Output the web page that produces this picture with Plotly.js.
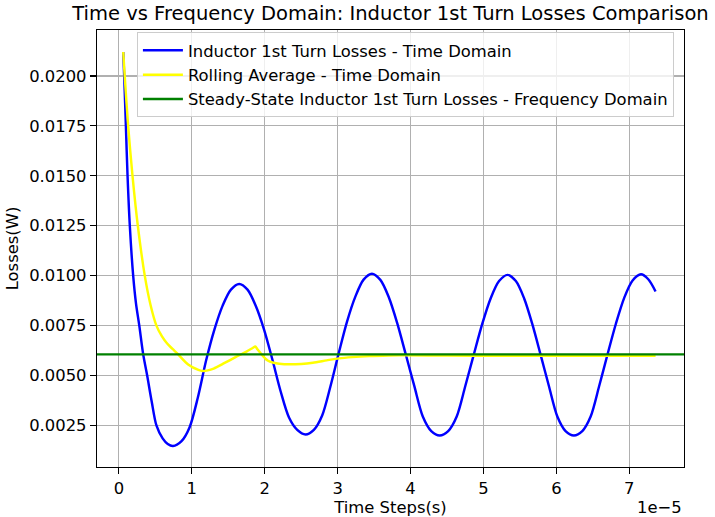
<!DOCTYPE html>
<html>
<head>
<meta charset="utf-8">
<script src="https://cdn.plot.ly/plotly-3.0.1.min.js"></script>
<style>html,body{margin:0;padding:0;background:#fff;}#chart{width:715px;height:517px;}</style>
</head>
<body>
<div id="chart"></div>
<script>
// Time values in units of 1e-5 s (converted to seconds below)
const timeDomainT = [0.06,0.073,0.096,0.119,0.15,0.196,0.235,0.28,0.333,0.388,0.45,0.515,0.60,0.67,0.742,
  0.856,0.969,1.083,1.196,1.310,1.423,1.537,1.650,
  1.764,1.878,1.991,2.105,2.219,2.333,2.446,2.560,
  2.674,2.788,2.901,3.015,3.129,3.243,3.356,3.470,
  3.586,3.703,3.819,3.935,4.051,4.168,4.284,4.400,
  4.516,4.633,4.749,4.865,4.981,5.098,5.214,5.330,
  5.444,5.558,5.671,5.785,5.899,6.013,6.126,6.240,
  6.355,6.470,6.585,6.700,6.815,6.930,7.045,7.160,7.26,7.36];
const timeDomainLoss = [0.0212,0.0200,0.0175,0.0150,0.0125,0.0100,0.0086,0.0075,0.00607,0.0050,0.0037,0.0025,0.00185,0.00157,0.00147,
  0.00170,0.00240,0.00390,0.00575,0.00730,0.00850,0.00930,0.00958,
  0.00930,0.00848,0.00730,0.00580,0.00420,0.00290,0.00228,0.00205,
  0.00228,0.00300,0.00445,0.00612,0.00770,0.00895,0.00980,0.01010,
  0.00979,0.00891,0.00760,0.00605,0.00448,0.00295,0.00222,0.00200,
  0.00222,0.00295,0.00445,0.00602,0.00756,0.00886,0.00973,0.01004,
  0.00973,0.00886,0.00756,0.00602,0.00445,0.00295,0.00222,0.00200,
  0.00222,0.00295,0.00445,0.00604,0.00758,0.00889,0.00976,0.01007,0.00982,0.00921];
const rollingT = [0.06,0.08,0.127,0.187,0.26,0.355,0.435,0.515,0.589,0.662,0.736,0.81,0.95,1.09,1.15,1.22,1.30,1.45,1.60,1.75,1.84,1.87,1.90,1.97,2.04,2.12,2.20,2.34,2.50,2.66,2.85,3.02,3.20,3.43,3.70,3.93,4.50,5.20,6.00,6.70,7.36];
const rollingAvg = [0.0212,0.0200,0.0175,0.0150,0.0125,0.0100,0.00852,0.0075,0.00697,0.00660,0.00633,0.00607,0.00555,0.00528,0.00523,0.00526,0.00535,0.00563,0.00592,0.00620,0.00639,0.00645,0.00632,0.00600,0.00575,0.00564,0.00559,0.00556,0.00558,0.00564,0.00576,0.00586,0.00592,0.00597,0.00600,0.00601,0.00600,0.00599,0.00599,0.00599,0.00599];
const steadyStateLoss = 0.00606;
const xTickVals = [0,1,2,3,4,5,6,7];
const xTickText = ['0','1','2','3','4','5','6','7'];
const yTickVals = [0.0025,0.0050,0.0075,0.0100,0.0125,0.0150,0.0175,0.0200];
const seriesNames = ['Inductor 1st Turn Losses - Time Domain','Rolling Average - Time Domain','Steady-State Inductor 1st Turn Losses - Frequency Domain'];

const scale = 1e-5;
const xRange = [-0.30*scale, 7.75*scale];
const yRange = [0.00042, 0.0223];
const toSec = a => a.map(v => v*scale);

const font = 'DejaVu Sans, sans-serif';
const fs = 16.4;
const traces = [
  {x: toSec(timeDomainT), y: timeDomainLoss, mode:'lines', name: seriesNames[0], legendgroup:'a',
   line:{color:'#0000ff', width:2.45, shape:'spline', smoothing:0.85}},
  {x: toSec(rollingT), y: rollingAvg, mode:'lines', name: seriesNames[1], legendgroup:'b',
   line:{color:'#ffff00', width:2.45, shape:'spline', smoothing:0.8}},
  {x: xRange, y: [steadyStateLoss, steadyStateLoss], mode:'lines', name: seriesNames[2], legendgroup:'c',
   line:{color:'#008000', width:2.45}}
];

const axisCommon = {
  showline:true, linecolor:'#000', linewidth:1.2, mirror:true,
  ticks:'outside', ticklen:6, tickwidth:1.2, tickcolor:'#000',
  showgrid:true, gridcolor:'#b0b0b0', gridwidth:1.2, zeroline:false,
  tickfont:{family:font, size:fs, color:'#000'}
};

const layout = {
  width:715, height:517,
  margin:{l:97, r:31, t:30, b:50},
  paper_bgcolor:'#fff', plot_bgcolor:'#fff',
  title:{text:'Time vs Frequency Domain: Inductor 1st Turn Losses Comparison',
         font:{family:font, size:19.5, color:'#000'}, x:0.5, xref:'paper', xanchor:'center',
         y:1-13/517, yref:'container', yanchor:'middle'},
  xaxis:Object.assign({}, axisCommon, {range:xRange, tickvals:toSec(xTickVals), ticktext:xTickText,
         title:{text:'Time Steps(s)', font:{family:font, size:fs, color:'#000'}, standoff:4}}),
  yaxis:Object.assign({}, axisCommon, {range:yRange, tickvals:yTickVals, tickformat:'.4f',
         title:{text:'Losses(W)', font:{family:font, size:fs, color:'#000'}, standoff:6}}),
  showlegend:true,
  legend:{x:0.068, y:0.995, xanchor:'left', yanchor:'top', bgcolor:'rgba(255,255,255,0.8)',
          bordercolor:'#cccccc', borderwidth:1, font:{family:font, size:fs, color:'#000'},
          traceorder:'grouped', tracegroupgap:0, itemwidth:40},
  annotations:[{text:'1e\u22125', xref:'paper', yref:'paper', x:1, y:-0.092, xanchor:'right', yanchor:'middle',
                showarrow:false, font:{family:font, size:fs, color:'#000'}}]
};

Plotly.newPlot('chart', traces, layout, {displayModeBar:false, staticPlot:true});
</script>
</body>
</html>
